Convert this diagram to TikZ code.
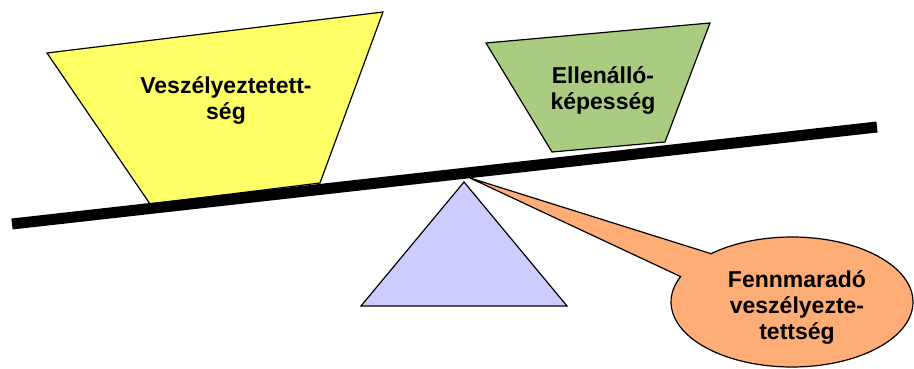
\documentclass[tikz,border=0pt]{standalone}
\usepackage{fontspec}
\setmainfont{Liberation Sans}
\definecolor{hazardyellow}{RGB}{255,255,102}
\definecolor{resistgreen}{RGB}{169,204,128}
\definecolor{pivotblue}{RGB}{204,204,255}
\definecolor{calloutorange}{RGB}{255,173,119}
\begin{document}
\begin{tikzpicture}[x=1pt,y=1pt,
		shapeline/.style={draw=black,line width=1.2pt,line join=miter},
		label/.style={align=center,font=\fontsize{23}{26}\selectfont\bfseries,inner sep=0pt}]
	\useasboundingbox (0,0) rectangle (914,369);
	% weights on the beam
	\draw[shapeline,fill=hazardyellow] (47,316) -- (383,357) -- (320,186) -- (150,165) -- cycle;
	\draw[shapeline,fill=resistgreen] (486,326) -- (710,346) -- (665,227) -- (552,217) -- cycle;
	% pivot
	\coordinate (apex) at (464,187);
	\draw[shapeline,fill=pivotblue] (apex) -- (567,63) -- (361,63) -- cycle;
	% beam
	\coordinate (bl) at (12,145);
	\coordinate (br) at (877,242);
	\draw[line width=11pt] (bl) -- (br);
	% callout
	\coordinate (tip) at (470,191);
	\coordinate (oval) at (792,67);
	\draw[shapeline,fill=calloutorange] (tip) -- ([shift={(132:121 and 65)}]oval)
		arc[start angle=132,end angle=-203,x radius=121,y radius=65] -- cycle;
	% texts
	\node[label] (hazard) at (226,268) {Veszélyeztetett-\\ség};
	\node[label] (resist) at (603,278) {Ellenálló-\\képesség};
	\node[label] (remain) at (797,61) {Fennmaradó\\veszélyezte-\\tettség};
\end{tikzpicture}
\end{document}
